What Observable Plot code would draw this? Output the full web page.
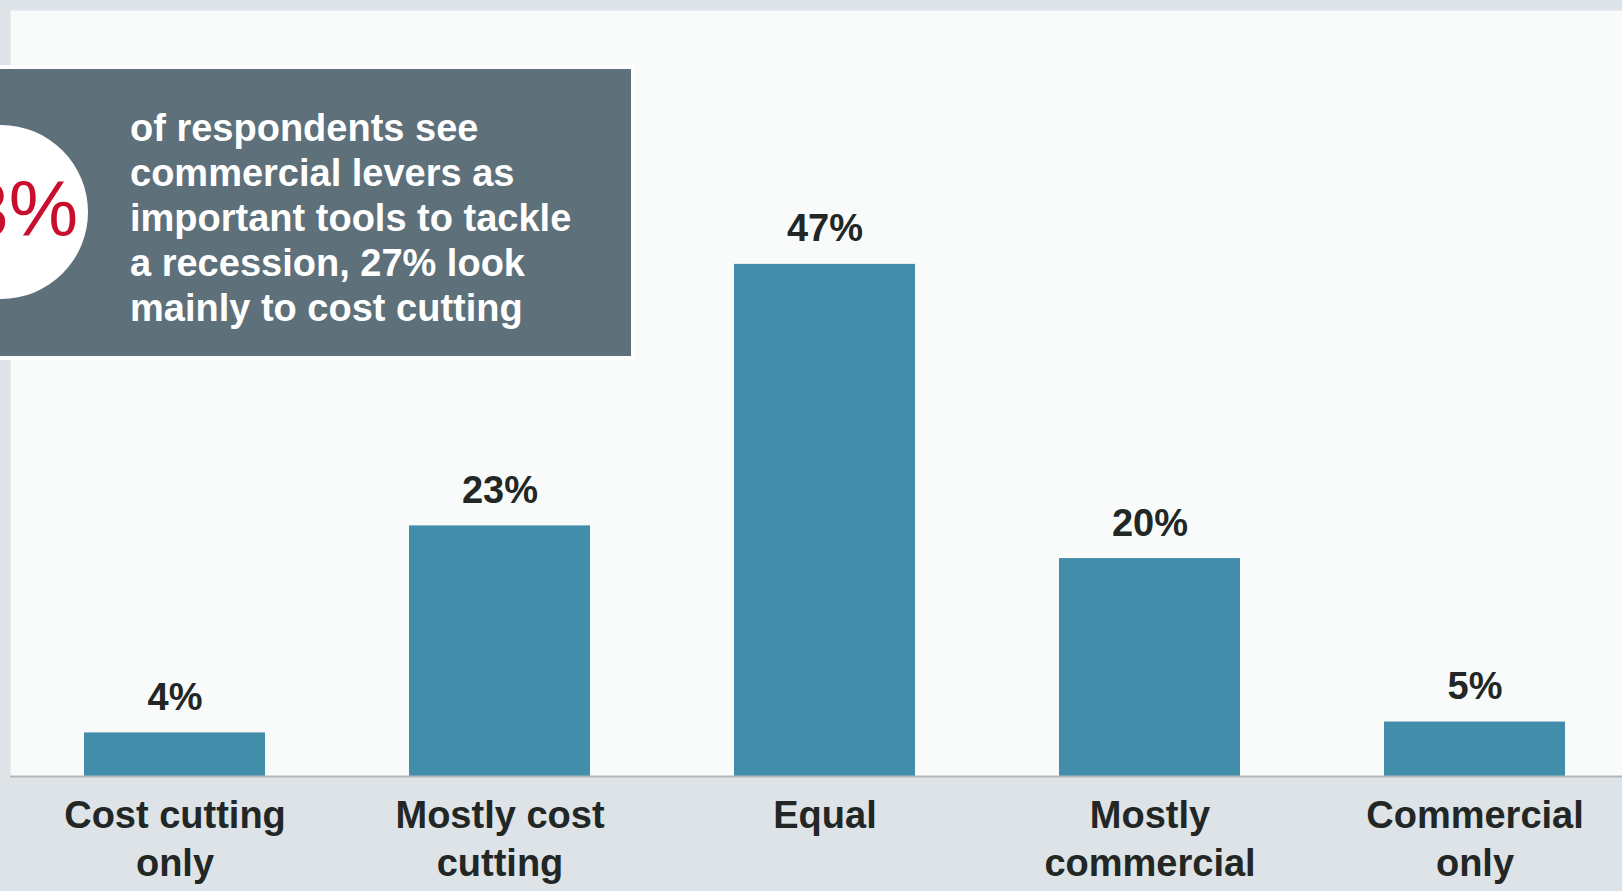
<!DOCTYPE html>
<html>
<head>
<meta charset="utf-8">
<script src="https://cdn.jsdelivr.net/npm/d3@7"></script>
<script src="https://cdn.jsdelivr.net/npm/@observablehq/plot@0.6"></script>
<style>
  html, body { margin: 0; padding: 0; width: 1622px; height: 891px; overflow: hidden; background: #dde3e6; }
  #wrap { position: relative; width: 1622px; height: 891px; }
  #callout { position: absolute; left: 0; top: 69px; width: 631px; height: 287px; background: #5e707a; outline: 4px solid #ffffff; overflow: hidden; }
  #circle { position: absolute; left: -86px; top: 56px; width: 174px; height: 174px; border-radius: 50%; background: #ffffff; }
  #big { position: absolute; right: calc(631px - 78px); top: 101px; font-family: "Liberation Sans", Arial, sans-serif; font-weight: 300; font-size: 78px; line-height: 78px; color: #c8102e; white-space: nowrap; }
  #note { position: absolute; left: 130px; top: 37px; font-family: "Liberation Sans", Arial, sans-serif; font-weight: bold; font-size: 38px; line-height: 45px; color: #ffffff; white-space: nowrap; }
</style>
</head>
<body>
<div id="wrap">
  <div id="chart"></div>
  <div id="callout">
    <div id="circle"></div>
    <div id="big"></div>
    <div id="note"></div>
  </div>
</div>
<script>
const categories = ["Cost cutting only", "Mostly cost cutting", "Equal", "Mostly commercial", "Commercial only"];
const values = [4, 23, 47, 20, 5];
const tickLabels = ["Cost cutting\nonly", "Mostly cost\ncutting", "Equal", "Mostly\ncommercial", "Commercial\nonly"];
const calloutValue = "73%";
const calloutLines = ["of respondents see", "commercial levers as", "important tools to tackle", "a recession, 27% look", "mainly to cost cutting"];

const data = categories.map((c, i) => ({category: c, value: values[i], label: values[i] + "%"}));
const labelOf = new Map(categories.map((c, i) => [c, tickLabels[i]]));

const chart = Plot.plot({
  width: 1622,
  height: 891,
  marginLeft: 10,
  marginRight: 0,
  marginTop: 10,
  marginBottom: 115,
  style: {background: "transparent", fontFamily: "'Liberation Sans', Arial, sans-serif", color: "#222725"},
  x: {domain: categories, paddingInner: 0.443, paddingOuter: 0.2015, align: 0.565, round: false, label: null},
  y: {domain: [0, 70.3], axis: null},
  marks: [
    Plot.frame({fill: "#f9fbfb", stroke: null}),
    Plot.barY(data, {x: "category", y: "value", fill: "#428da9"}),
    Plot.ruleY([0], {stroke: "#b3b7b9", strokeWidth: 2}),
    Plot.text(data, {x: "category", y: "value", text: "label", lineAnchor: "bottom", dy: -23, fontSize: 38, fontWeight: "bold", fill: "#222725"}),
    Plot.axisX({tickSize: 0, tickPadding: 18, fontSize: 38, fontWeight: "bold", lineHeight: 1.25, tickFormat: d => labelOf.get(d), label: null, fill: "#222725"})
  ]
});
document.getElementById("chart").appendChild(chart);
document.getElementById("big").textContent = calloutValue;
document.getElementById("note").innerHTML = calloutLines.map(s => s.replace(/&/g, "&amp;")).join("<br>");
</script>
</body>
</html>
